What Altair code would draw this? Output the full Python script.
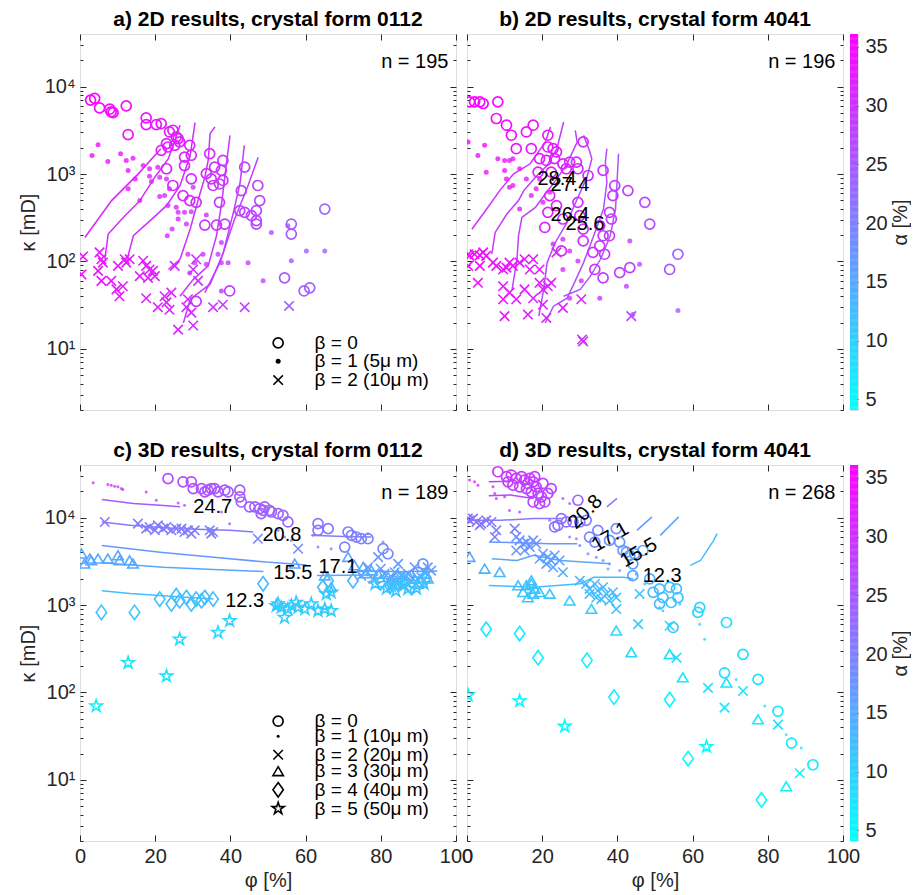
import altair as alt
import numpy as np
import pandas as pd

FONT = "Liberation Sans"
DARK = "#262626"

# ---------------- data: (phi [%], kappa [mD], alpha [%]) ----------------
A_CIRCLES = [(2.8,7010,35.5),(3.9,7330,35.5),(5.2,5710,35),(7.9,5520,35),(8.3,5140,35),(8.8,5050,35),
    (12.3,6030,34.5),(12.8,2830,34),(17.6,4390,33.5),(17.6,3680,33.5),(20.3,3680,33),(21.6,3780,33),
    (23.8,3030,32.5),(24.7,3170,32.5),(25.6,2660,32.5),(26.1,2540,32.5),(23.0,2230,32.5),(23.4,2040,32.5),
    (25.2,2130,32),(26.5,2330,32),(29.2,2130,31.5),(29.6,1640,31.5),(27.8,1560,31.5),(27.8,1250,31.5),
    (21.6,1870,32.5),(23.0,1150,32),(24.7,740,31.5),(29.6,880,31),(27.4,567,31),(29.2,497,31),(30.9,475,30.5),
    (33.2,261,30),(34.5,1710,30.5),(33.6,1010,30.5),(35.8,1200,30),(38.0,1430,29.5),(37.6,1100,29.5),
    (34.9,880,30),(35.4,740,30),(37.1,770,29.5),(38.0,845,29.5),(37.1,475,29.5),(36.3,261,29.5),(38.5,268,29),
    (39.8,46,28.5),(30.9,35,29.5),(43.8,1200,28),(42.9,647,28),(42.5,381,28),(43.8,365,28),(45.6,334,27.5),
    (46.9,293,27.5),(47.3,740,27.5),(47.8,497,27.5),(46.9,381,27.5),(46.9,268,27.5),(56.2,268,24.5),
    (56.2,206,24.5),(54.4,65,25),(59.6,46,24),(61.1,50,24),(65.1,398,23)]
A_DOTS = [(3.2,1630,34.5),(4.8,2170,34.5),(7.4,1390,34),(10.8,1710,33.5),(12.3,1430,33.5),(14.1,1520,33),
    (12.8,1100,33),(14.7,880,33),(12.8,677,33),(15.9,497,32.5),(16.8,1250,32.5),(18.5,1150,32),(18.5,946,32),
    (19.0,822,32),(20.7,1200,32),(21.2,920,31.5),(23.0,880,31.5),(21.2,552,31.5),(22.5,567,31.5),
    (23.8,677,31.5),(23.4,436,31.5),(25.6,417,31),(26.1,365,31),(27.8,365,31),(29.6,371,30.5),(30.1,706,30.5),
    (33.6,340,30),(26.1,306,31),(28.3,268,30.5),(24.5,235,31),(23.2,197,31),(28.7,121,30.5),(32.7,121,30),
    (33.6,93,30),(37.6,165,29),(36.7,121,29),(37.6,97,29),(39.4,97,28.5),(37.6,46,29),(44.7,97,27.5),
    (48.7,60,27),(50.9,215,26.5),(55.3,257,25.5),(56.2,102,25),(60.2,132,24.5),(65.1,132,23.5),
    (29.2,74,30.5),(30.5,97,30.5)]
A_CROSSES = [(0.8,114,34),(0.4,71,34),(5.2,127,33.5),(5.7,106,33.5),(6.1,97,33.5),(4.8,78,33.5),(5.7,60,33.5),
    (8.3,60,33),(9.7,48,33),(10.1,89,33),(11.9,106,33),(12.3,97,33),(11.4,52,33),(10.5,40,33),(13.2,106,32.5),
    (16.8,102,32),(17.6,89,32),(18.5,81,32),(19.4,78,32),(18.1,65,32),(19.9,68,32),(15.9,68,32),(17.6,38,32),
    (20.7,30,31.5),(22.5,40,31.5),(23.0,34,31.5),(23.8,28,31),(24.3,44,31),(25.2,89,31),(26.1,16.6,31),
    (30.1,18.5,30.5),(28.7,37,30.5),(28.3,30,30.5),(29.6,26,30.5),(30.1,81,30.5),(30.9,106,30),(31.4,60,30),
    (35.4,30,29.5),(38.0,32,29),(43.8,30,28),(55.6,31,24.5)]
A_LINES = [
    (31.5, [(1.3,188),(8.4,497),(15.5,1005),(21.5,1950)]),
    (31.0, [(6.6,106),(7.5,206),(11.5,319),(15.8,488),(19.9,920),(23.5,1500),(26.6,3610)]),
    (30.5, [(12.4,101),(14.2,197),(19.1,305),(23.0,435),(26.6,738),(29.3,1630),(30.6,3870)]),
    (30.0, [(23.5,81),(26.6,106),(29.3,235),(31.5,519),(33.2,920),(34.1,1430),(34.6,2900),(35.9,3460)]),
    (29.5, [(26.6,40),(30.1,62),(34.1,89),(36.3,197),(37.7,475),(39.0,1370),(39.9,2770)]),
    (29.0, [(27.5,19.8),(29.3,37),(34.6,55),(38.1,126),(40.8,365),(42.6,805),(43.7,2130)]),
    (28.5, [(33.2,44),(37.2,97),(41.1,305),(44.7,738),(47.4,1560)]),
]

B_CIRCLES = [(0.7,6700,35.5),(2.0,6700,35.5),(3.4,6700,35.5),(4.3,6410,35.5),(8.2,6700,35),(7.8,4320,34.5),
    (10.5,3620,34),(11.8,2780,34),(15.8,3030,33.5),(17.6,3620,33.5),(13.1,1950,33.5),(17.1,1950,33),
    (21.5,2780,33),(21.5,2040,33),(22.9,1950,32.5),(23.8,1790,32.5),(21.1,1430,32.5),(23.3,1500,32.5),
    (19.3,1500,33),(18.9,1050,32.5),(22.4,1050,32),(25.5,1310,32),(27.3,1370,31.5),(29.1,1370,31),
    (29.5,1150,31),(26.4,1150,31.5),(30.9,2330,31),(32.2,962,30.5),(22.0,567,32),(21.5,365,32),(20.7,245,32),
    (23.8,436,31.5),(25.5,306,31),(29.5,475,30.5),(30.0,334,30.5),(30.9,235,30),(25.1,132,31),(35.3,257,29.5),
    (36.2,197,29.5),(35.3,151,29.5),(36.6,121,29),(37.9,365,29),(39.3,739,29),(38.8,567,29),(36.2,1100,29.5),
    (38.4,306,29),(37.9,197,29),(30.9,172,30),(33.5,127,29.5),(34.0,81,29.5),(36.2,65,29),(40.6,74.5,28.5),
    (43.3,85,28),(42.8,647,28),(47.3,475,27),(48.6,268,26.5),(53.9,81,25),(56.1,121,24.5)]
B_DOTS = [(0.3,2330,35),(2.9,1630,34.5),(4.7,2130,34.5),(5.1,1050,34),(8.2,1500,34),(10.0,1430,34),
    (10.0,1100,33.5),(11.3,1430,33.5),(12.2,1500,33.5),(10.5,880,33.5),(11.3,706,33.5),(12.2,739,33),
    (14.0,1150,33),(15.8,880,33),(17.1,567,32.5),(14.0,398,32.5),(18.4,677,32.5),(20.2,475,32),(22.9,158,31.5),
    (25.5,180,31),(25.5,81,31),(27.3,132,30.5),(29.5,101,30.5),(30.4,60,30),(27.3,38,30.5),(35.3,38,29.5),
    (42.4,52,28),(43.3,172,28),(45.9,93,27.5),(56.1,27.5,24),(44.1,24.7,27.5),(19.3,880,32),(22.0,620,32)]
B_CROSSES = [(0.3,121,35),(0.7,116,35),(2.0,121,35),(3.4,118,35),(4.3,127,34.5),(5.1,116,34.5),(0.3,89,35),
    (3.4,89,34.5),(2.9,57,34.5),(6.9,97,34),(7.8,89,34),(9.6,81,33.5),(10.5,85,33.5),(11.3,97,33.5),
    (12.2,89,33.5),(14.0,97,33),(15.3,106,33),(16.7,81,33),(17.6,106,32.5),(19.3,81,32.5),(9.6,52,33.5),
    (9.6,37,33.5),(10.0,23.7,33.5),(11.3,44,33),(13.1,37,33),(15.3,48,33),(16.2,24.7,32.5),(17.6,38,32.5),
    (19.3,57,32),(20.2,48,32),(21.5,52,32),(22.4,57,32),(21.1,22.6,32),(20.2,32,32),(23.8,127,31.5),
    (25.5,29.5,31.5),(30.4,37,30.5),(30.9,12.2,30),(30.6,12.8,30),(43.7,23.7,26.5)]
B_LINES = [
    (30.0, [(1.3,234),(4.9,381),(8.9,664),(12.4,1005),(16.8,1310),(20.8,2320),(22.2,3460)]),
    (29.2, [(6.6,121),(7.5,215),(10.6,349),(13.7,497),(15.1,647),(18.2,920),(21.3,1250),(23.9,1950),(25.7,3940)]),
    (28.4, [(12.0,48),(13.3,106),(13.7,197),(14.6,319),(18.2,416),(20.8,592),(23.9,880),(26.6,1310),(29.3,2320),(28.8,3160)]),
    (27.4, [(19.1,23.7),(20.4,48),(21.3,97),(23.5,165),(26.6,280),(29.3,519),(31.9,920),(33.2,1500),(32.4,1950),(31.0,2770)]),
    (26.4, [(20.8,19.8),(23.0,30.8),(26.6,38),(28.4,55),(31.0,97),(33.7,197),(36.3,398),(37.2,805),(36.8,1370),(37.2,1950)]),
    (25.6, [(25.7,40),(30.1,48),(32.8,68),(35.5,106),(38.1,197),(39.5,398),(39.9,805),(40.3,1710)]),
]
B_LABELS = [("28.4",23.9,880,0),("27.4",27.4,745,0),("26.4",27.4,337,0),("25.6",31.4,265,0)]

C_CIRCLES = [(23.4,28000,27),(27.4,25700,26.5),(29.6,25700,26.5),(30.1,21500,26),(32.3,21500,26),(33.2,19700,26),
    (34.0,20600,26),(34.9,21500,25.5),(35.8,21500,25.5),(36.7,19700,25.5),(38.5,20600,25.5),(39.4,19700,25),
    (42.5,20600,25),(42.5,17300,25),(42.9,15100,24.5),(45.1,13300,24),(46.5,13300,24),(47.8,12700,24),
    (48.7,12100,24),(49.1,13300,24),(50.4,12100,23.5),(48.2,11100,24),(50.9,11600,23.5),(52.7,11100,23.5),
    (54.0,10600,23),(55.3,8920,23),(63.3,8530,21),(66.0,7480,21),(63.3,7160,21),(71.3,6850,20),(72.2,6270,20),
    (73.5,6000,20),(74.8,5740,20),(70.4,4610,20),(76.6,5740,19.5),(80.6,4410,19),(81.9,3860,18.5),
    (91.2,2960,17),(89.9,2370,17),(84.6,2080,17.5),(83.2,1900,17.5)]
C_DOTS = [(3.5,25000,30),(7.4,23900,29.5),(8.3,23500,29.5),(9.2,22900,29.5),(10.1,22500,29.5),(11.0,21500,29),
    (11.4,21000,29),(17.6,19700,28),(20.3,15800,27.5),(26.1,14700,26.5),(27.8,13900,26),(37.6,11600,25),
    (39.8,8530,24),(52.7,7160,22),(54.4,6000,22),(56.2,5490,21.5),(62.0,6270,21),(63.3,4610,20.5),
    (66.8,4410,20),(71.3,6000,20),(76.6,6550,19.5),(80.6,5250,19)]
C_CROSSES = [(6.6,8920,21),(15.4,8530,20.5),(17.6,7480,20.5),(18.5,7820,20.5),(19.9,7160,20.5),(20.7,8170,20.5),
    (22.1,7480,20.5),(23.0,7820,20.5),(24.3,7160,20.5),(25.6,7480,20.5),(27.0,7480,20.5),(27.8,6850,20.5),
    (28.7,7160,20.5),(29.6,6550,20.5),(30.5,7160,20.5),(34.5,7160,20),(34.9,6550,20),(35.4,6850,20),
    (47.3,5740,19.5),(58.0,4410,18.5),(74.8,2170,16.5),(76.6,2710,17),(79.3,3530,17.5),(81.0,2270,16.5),
    (83.7,2370,16.5),(84.6,2960,17),(87.2,2270,16.5),(88.1,1900,16),(89.0,2710,17),(90.8,2080,16),
    (91.7,2370,16.5),(93.4,2480,16.5),(78.0,2000,16.5),(80.0,2600,17),(82.0,1900,16),(85.5,2150,16.5),
    (92.5,2700,17)]
C_TRIANGLES = [(0.4,3860,15),(1.2,2960,15),(2.6,3380,15),(3.0,3230,15),(4.8,3380,15),(7.4,3380,15),
    (10.1,3690,15),(10.5,3230,15),(13.2,3230,15),(14.1,2960,15),(57.1,2960,15),(65.1,2170,14),(71.3,3530,15.5),
    (73.0,2830,15),(75.3,2710,15),(77.5,2480,14.5),(79.3,2270,14.5),(81.9,2080,14),(83.7,1740,14),(86.3,1900,14),
    (89.0,1990,14),(91.7,2270,14.5),(89.9,1740,14),(66.8,1600,13.5),(76.0,2300,14.5),(84.5,2250,14.5),
    (87.5,2150,14.5),(92.5,2000,14)]
C_DIAMONDS = [(5.7,824,12),(14.5,824,12),(21.2,1170,12.3),(24.3,1030,12.3),(25.6,1280,12.3),(26.5,1120,12.3),
    (28.3,1220,12.3),(29.6,1030,12.3),(30.9,1170,12.3),(32.3,1120,12.3),(33.2,1220,12.3),(35.4,1170,12.3),
    (48.7,1750,13),(64.6,1600,13),(66.0,1900,13),(72.6,1900,13),(84.6,1740,13),(88.1,1600,13),
    (80.0,1800,13),(82.5,1650,13),(86.0,1950,13),(90.5,1850,13),(92.0,2050,13)]
C_STARS = [(4.3,70,6),(12.8,219,7.5),(23.0,154,7.5),(26.5,406,8.5),(36.7,485,9),(39.8,661,9.5),(52.2,982,10.5),
    (52.7,1030,10.5),(53.5,940,10.5),(54.4,721,10.5),(55.3,900,10.5),(56.2,982,10.5),(57.5,1070,10.5),
    (58.0,940,10.5),(59.8,900,10.5),(61.5,1030,10.5),(63.3,861,10.5),(65.1,900,10.5),(66.8,861,10.5),
    (65.5,1340,11),(66.8,1400,11),(82.8,1670,11.5),(87.2,1530,11.5),(81.5,1550,11.5),(84.0,1450,11.5),
    (86.0,1700,11.5),(89.5,1550,11.5),(91.5,1750,11.5),(78.5,1750,11.5)]
C_LINES = [
    (24.7, [(5.8,16100),(14.2,14500),(21.3,13900),(26.6,13300)]),
    (20.8, [(5.8,8930),(13.3,8170),(26.6,7480),(39.9,7160),(46.1,6850)]),
    (20.8, [(61.5,6270),(70.0,6100),(77.5,6000)]),
    (17.1, [(5.8,4810),(21.3,4030),(35.5,3530),(49.6,3100),(60.3,2880)]),
    (17.1, [(74.0,2480),(85.0,2400),(95.0,2450)]),
    (15.5, [(5.8,3040),(22.2,2710),(35.5,2550),(48.8,2420)]),
    (15.5, [(63.0,2180),(78.0,2200)]),
    (12.3, [(5.8,1460),(13.3,1360),(22.2,1280),(35.5,1170)]),
]
C_LABELS = [("24.7",35.3,13300,0),("20.8",53.7,6350,0),("17.1",68.6,2690,0),("15.5",56.6,2320,0),("12.3",43.8,1100,0)]

D_CIRCLES = [(8.2,33500,30),(10.5,29400,29),(11.8,30700,29),(13.1,28100,29),(14.5,29400,29),(15.3,26900,28.5),
    (16.7,28100,28.5),(17.6,25700,28.5),(18.0,29400,28.5),(12.2,23500,29),(14.0,22500,28.5),(15.8,21500,28.5),
    (17.1,19700,28),(18.9,18900,28),(19.8,17300,28),(20.7,15100,27.5),(21.5,18900,27.5),(22.4,21500,27.5),
    (20.2,24600,28),(10.9,25700,29),(16.2,24600,28.5),(18.4,22500,28),(17.6,15100,27.5),(19.3,14500,27.5),
    (29.5,15800,24),(25.1,9750,22),(26.4,8920,21.5),(28.2,8920,21.5),(30.0,8920,21),(31.7,9310,21),
    (24.2,8170,22),(23.3,7820,22),(34.8,7160,19.5),(39.7,7480,18.5),(32.6,6000,19.5),(34.0,5250,19),
    (37.9,5490,18),(40.6,5250,17.5),(41.5,4210,17),(43.3,3690,16.5),(44.1,2960,16),(44.6,3860,16),
    (46.8,4210,15.5),(42.4,4030,16.5),(44.1,2170,15),(48.6,1990,14),(51.2,1530,13),(49.5,1400,13),
    (52.1,1220,12.5),(53.9,1600,12.5),(55.7,1530,12),(56.1,1220,12),(54.3,1070,12),(51.2,1030,12.5),
    (54.8,554,11),(61.9,940,9.5),(61.4,824,9.5),(69.0,632,8.5),(73.4,273,8),(68.5,168,8),(77.4,141,7.5),
    (82.7,61,7),(86.3,26.4,6.5),(92.0,14.9,6)]
D_DOTS = [(0.7,26900,31),(2.0,25700,31),(2.9,23500,30.5),(6.9,22500,30),(7.4,18900,30),(7.8,16600,29.5),
    (10.0,17300,29.5),(11.3,12100,28),(14.0,11600,28),(25.5,16600,25),(27.3,14500,24.5),(22.0,9310,23),
    (27.3,6000,21),(29.1,5740,20.5),(30.0,4810,20),(32.2,3860,19),(34.4,3530,18.5),(36.2,3230,18),
    (37.9,2960,17.5),(37.5,2590,17),(40.6,2480,16.5),(43.3,1990,15.5),(45.0,2270,15),(47.3,1740,14),
    (51.2,940,12),(52.1,861,12),(56.6,1030,11.5),(61.9,605,10),(63.2,406,9.5),(71.6,141,8),(79.2,70,7.5),
    (84.9,32.9,7),(88.9,23.1,6.5)]
D_CROSSES = [(0.2,9750,21.5),(0.7,9310,21.5),(1.6,9750,21.5),(2.5,8920,21.5),(3.8,8530,21),(5.1,9310,21),
    (6.5,8920,21),(3.4,8170,21),(7.8,7160,20.5),(7.4,6000,20),(12.7,7480,19.5),(13.1,6000,18.5),(14.0,5490,18),
    (14.9,5030,17.5),(15.8,5250,17.5),(16.7,4610,17.5),(17.6,5490,17.5),(18.4,5030,17.5),(15.3,4210,17),
    (13.1,4210,17),(20.2,3860,16),(21.5,3530,16),(22.4,3230,16),(23.3,3690,16),(21.1,2960,16),(22.9,2710,15.5),
    (24.6,3230,16),(25.5,2370,15),(19.3,3380,16),(30.0,1900,13.5),(31.7,1740,13),(32.6,1530,13),(34.0,1740,13),
    (34.8,1460,13),(36.2,1600,13),(32.6,1340,12.5),(34.4,1220,12.5),(37.1,1340,12.5),(38.8,1400,12.5),
    (39.7,1220,12.5),(35.7,1170,12.5),(37.9,1120,12.5),(39.7,900,12),(45.9,1340,11.5),(45.5,605,10),
    (53.9,580,9.5),(55.7,250,8.5),(64.1,113,8),(68.5,67,7.5),(73.4,104,7.5),(82.7,42.9,7),(88.5,11.9,6)]
D_TRIANGLES = [(0.7,3530,15),(4.7,2590,13.5),(8.7,2370,13),(13.6,1670,12),(15.8,1670,12),(17.1,1740,12),
    (18.0,1530,11.5),(14.9,1400,11.5),(17.6,1340,11.5),(19.3,1400,11.5),(22.0,1340,11),(16.2,1220,11.5),
    (27.3,1120,10.5),(33.1,900,10),(39.7,507,9),(43.7,286,8.5),(53.9,273,8),(57.4,148,7.5),(69.0,129,7.5),
    (77.4,49,6.5),(84.9,8.4,6),(17.1,1900,12)]
D_DIAMONDS = [(5.1,530,6.5),(14.0,472,6.5),(18.9,250,6),(31.9,233,6),(39.1,88.5,5.5),(53.9,83,5.5),
    (58.8,17.5,5),(78.3,5.9,5)]
D_STARS = [(0.3,93,5),(14.0,80,5),(26.0,41,4.5),(63.7,24,4.5)]
D_LINES = [
    (28.5, [(5.8,25700),(11.5,26000)]),
    (27.0, [(5.8,17800),(11.5,18200),(17.7,16600)]),
    (20.8, [(0.4,9330),(8.9,9330),(17.7,9750),(25.7,9750)]),
    (20.8, [(37.2,13300),(39.9,16600)]),
    (17.1, [(5.8,5260),(13.3,5160),(22.2,5030),(29.3,5030)]),
    (17.1, [(45.2,7160),(49.2,10200)]),
    (15.5, [(6.6,3380),(13.3,3230),(17.7,3700),(24.8,3230),(31.0,3100),(38.1,2960)]),
    (15.5, [(51.4,6270),(56.3,10200)]),
    (12.3, [(5.8,1670),(17.7,1600),(30.1,1750),(33.7,2080),(41.7,2080),(44.3,1990)]),
    (12.3, [(59.4,2840),(62.1,3230),(65.6,5500),(66.5,6560)]),
]
D_LABELS = [("20.8",31.5,11600,315),("17.1",38.1,6000,330),("15.5",45.7,3960,330),("12.3",51.9,2170,0)]

N_TEXT = {"a": "n = 195", "b": "n = 196", "c": "n = 189", "d": "n = 268"}
LEG_A = [("circle", 11.7, "β = 0"), ("dot", 7.2, "β = 1 (5μ m)"), ("cross", 4.4, "β = 2 (10μ m)")]
LEG_C = [("circle", 46.9, "β = 0"), ("dot", 31.5, "β = 1 (10μ m)"), ("cross", 19.4, "β = 2 (20μ m)"),
         ("triangle", 12.5, "β = 3 (30μ m)"), ("diamond", 7.7, "β = 4 (40μ m)"), ("star", 4.7, "β = 5 (50μ m)")]
TITLES = {"a": "a) 2D results, crystal form 0112", "b": "b) 2D results, crystal form 4041",
          "c": "c) 3D results, crystal form 0112", "d": "d) 3D results, crystal form 4041"}
X_TICKS = [0, 20, 40, 60, 80, 100]
Y_TICKS = [10, 100, 1000, 10000]
Y_MINOR = [m * 10 ** e for e in range(0, 5) for m in range(2, 10) if 2 <= m * 10 ** e < 40000]
CB_TICKS = [5, 10, 15, 20, 25, 30, 35]

# ---------------- styling ----------------
PW = 376
PH = 376
XS = alt.Scale(domain=[0, 100], nice=False, zero=False)
YS = alt.Scale(type="log", domain=[2, 40000], nice=False)
CS = alt.Scale(domain=[4.1, 36.1], range=["#00ffff", "#ff00ff"], interpolate="rgb")

STAR = "M0,-1L0.2245,-0.309L0.951,-0.309L0.363,0.118L0.588,0.809L0,0.382L-0.588,0.809L-0.363,0.118L-0.951,-0.309L-0.2245,-0.309Z"
SHAPES = {
    "circle": dict(shape="circle", size=100, filled=False, strokeWidth=1.7),
    "cross": dict(shape="M-1,-1L1,1M-1,1L1,-1", size=90, filled=False, strokeWidth=1.6),
    "triangle": dict(shape="M0,-0.9L1,0.8L-1,0.8Z", size=110, filled=False, strokeWidth=1.6),
    "diamond": dict(shape="M0,-1L0.72,0L0,1L-0.72,0Z", size=210, filled=False, strokeWidth=1.6),
    "star": dict(shape=STAR, size=160, filled=False, strokeWidth=1.6),
}


def xy(xaxis=None, yaxis=None):
    return dict(x=alt.X("phi:Q", scale=XS, axis=xaxis), y=alt.Y("kappa:Q", scale=YS, axis=yaxis))


def marker_layer(points, kind, dot_size):
    df = pd.DataFrame(points, columns=["phi", "kappa", "alpha"])
    if kind == "dot":
        mk = alt.Chart(df).mark_point(shape="circle", size=dot_size, filled=True, opacity=0.8, clip=True)
    else:
        mk = alt.Chart(df).mark_point(opacity=1, clip=True, **SHAPES[kind])
    return mk.encode(color=alt.Color("alpha:Q", scale=CS, legend=None), **xy())


def line_layer(lines):
    rows = []
    for lid, (a, pts) in enumerate(lines):
        for i, (p, k) in enumerate(pts):
            rows.append(dict(line=lid, idx=i, phi=p, kappa=k, alpha=a))
    return alt.Chart(pd.DataFrame(rows)).mark_line(strokeWidth=1.5, clip=True).encode(
        color=alt.Color("alpha:Q", scale=CS, legend=None), detail="line:N", order="idx:Q", **xy())


def label_layer(labels):
    df = pd.DataFrame(labels, columns=["txt", "phi", "kappa", "angle"])
    return alt.Chart(df).mark_text(font=FONT, fontSize=20, color="black", align="center", baseline="middle").encode(
        text="txt:N", angle=alt.Angle("angle:Q", scale=None), **xy())


def ntext_layer(txt):
    df = pd.DataFrame([dict(phi=98, kappa=19300, txt=txt)])
    return alt.Chart(df).mark_text(font=FONT, fontSize=20, color="black", align="right", baseline="middle").encode(
        text="txt:N", **xy())


def legend_layers(items, dot_size):
    out = []
    for kind, k, txt in items:
        df = pd.DataFrame([dict(phi=52.7, kappa=k, txt=txt)])
        if kind == "dot":
            m = alt.Chart(df).mark_point(shape="circle", size=dot_size, filled=True, color="black", opacity=1)
        else:
            m = alt.Chart(df).mark_point(color="black", opacity=1, **SHAPES[kind])
        out.append(m.encode(**xy()))
        df2 = pd.DataFrame([dict(phi=62.4, kappa=k, txt=txt)])
        out.append(alt.Chart(df2).mark_text(font=FONT, fontSize=19, color="black", align="left",
                                            baseline="middle").encode(text="txt:N", **xy()))
    return out


def ax(**kw):
    base = dict(grid=False, domain=False, tickColor=DARK, tickWidth=1, labelColor=DARK, labelFont=FONT,
                labelFontSize=20, titleFont=FONT, titleFontSize=20, titleColor=DARK, titleFontWeight="normal",
                minExtent=0)
    base.update(kw)
    return alt.Axis(**base)


DUMMY = pd.DataFrame([dict(phi=50, kappa=100)])


def axis_layer(xaxis=None, yaxis=None):
    return alt.Chart(DUMMY).mark_point(opacity=0, size=1).encode(**xy(xaxis, yaxis))


def axis_layers(xlabels, ylabels):
    L = []
    if xlabels:
        xa = ax(orient="bottom", values=X_TICKS, tickSize=6, offset=-6, labels=True, labelPadding=5,
                labelFlush=False, labelOverlap=False, title="φ [%]", titlePadding=4)
    else:
        xa = ax(orient="bottom", values=X_TICKS, tickSize=6, offset=-6, labels=False, title=None)
    L.append(axis_layer(xaxis=xa))
    L.append(axis_layer(xaxis=ax(orient="top", values=X_TICKS, tickSize=6, offset=-6, labels=False, title=None)))
    if ylabels:
        ya = ax(orient="left", values=Y_TICKS, tickSize=6, offset=-6, labels=True, labelPadding=5,
                labelOverlap=False,
                labelExpr="datum.value == 10 ? '10¹' : datum.value == 100 ? '10²' : datum.value == 1000 ? '10³' : '10⁴'",
                title="κ [mD]", titlePadding=6)
    else:
        ya = ax(orient="left", values=Y_TICKS, tickSize=6, offset=-6, labels=False, title=None)
    L.append(axis_layer(yaxis=ya))
    L.append(axis_layer(yaxis=ax(orient="left", values=Y_MINOR, tickSize=3, offset=-3, labels=False, title=None)))
    L.append(axis_layer(yaxis=ax(orient="right", values=Y_TICKS, tickSize=6, offset=-6, labels=False, title=None)))
    L.append(axis_layer(yaxis=ax(orient="right", values=Y_MINOR, tickSize=3, offset=-3, labels=False, title=None)))
    return L


def panel(key, groups, lines, labels, legend, dot_size, xlabels, ylabels):
    layers = []
    if lines:
        layers.append(line_layer(lines))
    for kind, pts in groups:
        layers.append(marker_layer(pts, kind, dot_size))
    if labels:
        layers.append(label_layer(labels))
    layers.append(ntext_layer(N_TEXT[key]))
    if legend:
        layers += legend_layers(legend, dot_size)
    layers += axis_layers(xlabels, ylabels)
    return alt.layer(*layers).resolve_axis(x="independent", y="independent").properties(
        width=PW, height=PH,
        title=alt.TitleParams(TITLES[key], font=FONT, fontSize=21, fontWeight="bold", color="black",
                              anchor="middle", offset=-13, baseline="alphabetic"))


def colorbar():
    v = np.round(np.arange(4.1, 36.1, 0.1), 2)
    df = pd.DataFrame({"v0": v, "v1": v + 0.13, "vm": v + 0.05})
    return alt.Chart(df).mark_rect(strokeWidth=0).encode(
        y=alt.Y("v0:Q", scale=alt.Scale(domain=[4.1, 36.1], nice=False, zero=False, clamp=True),
                axis=ax(orient="right", values=CB_TICKS, tickSize=4, offset=-4, labelPadding=7,
                        labelFontSize=20, title="α [%]", titleAngle=270, titleBaseline="top", titlePadding=3)),
        y2="v1:Q",
        color=alt.Color("vm:Q", scale=CS, legend=None),
    ).properties(width=8, height=PH)


pa = panel("a", [("circle", A_CIRCLES), ("dot", A_DOTS), ("cross", A_CROSSES)], A_LINES, None, LEG_A, 25, False, True)
pb = panel("b", [("circle", B_CIRCLES), ("dot", B_DOTS), ("cross", B_CROSSES)], B_LINES, B_LABELS, None, 25, False, False)
pc = panel("c", [("circle", C_CIRCLES), ("dot", C_DOTS), ("cross", C_CROSSES), ("triangle", C_TRIANGLES),
                 ("diamond", C_DIAMONDS), ("star", C_STARS)], C_LINES, C_LABELS, LEG_C, 9, True, True)
pd_ = panel("d", [("circle", D_CIRCLES), ("dot", D_DOTS), ("cross", D_CROSSES), ("triangle", D_TRIANGLES),
                  ("diamond", D_DIAMONDS), ("star", D_STARS)], D_LINES, D_LABELS, None, 9, True, False)

row1 = alt.hconcat(pa, alt.hconcat(pb, colorbar(), spacing=7, bounds="flush"), spacing=11, bounds="flush")
row2 = alt.hconcat(pc, alt.hconcat(pd_, colorbar(), spacing=7, bounds="flush"), spacing=11, bounds="flush")

chart = alt.vconcat(row1, row2, spacing=28).properties(
    padding={"left": 17, "top": 8, "right": 0, "bottom": 0}
).configure_view(stroke=DARK, strokeWidth=1.2).configure(background="white")

chart.save("out.html", embed_options={"renderer": "svg", "actions": False})
